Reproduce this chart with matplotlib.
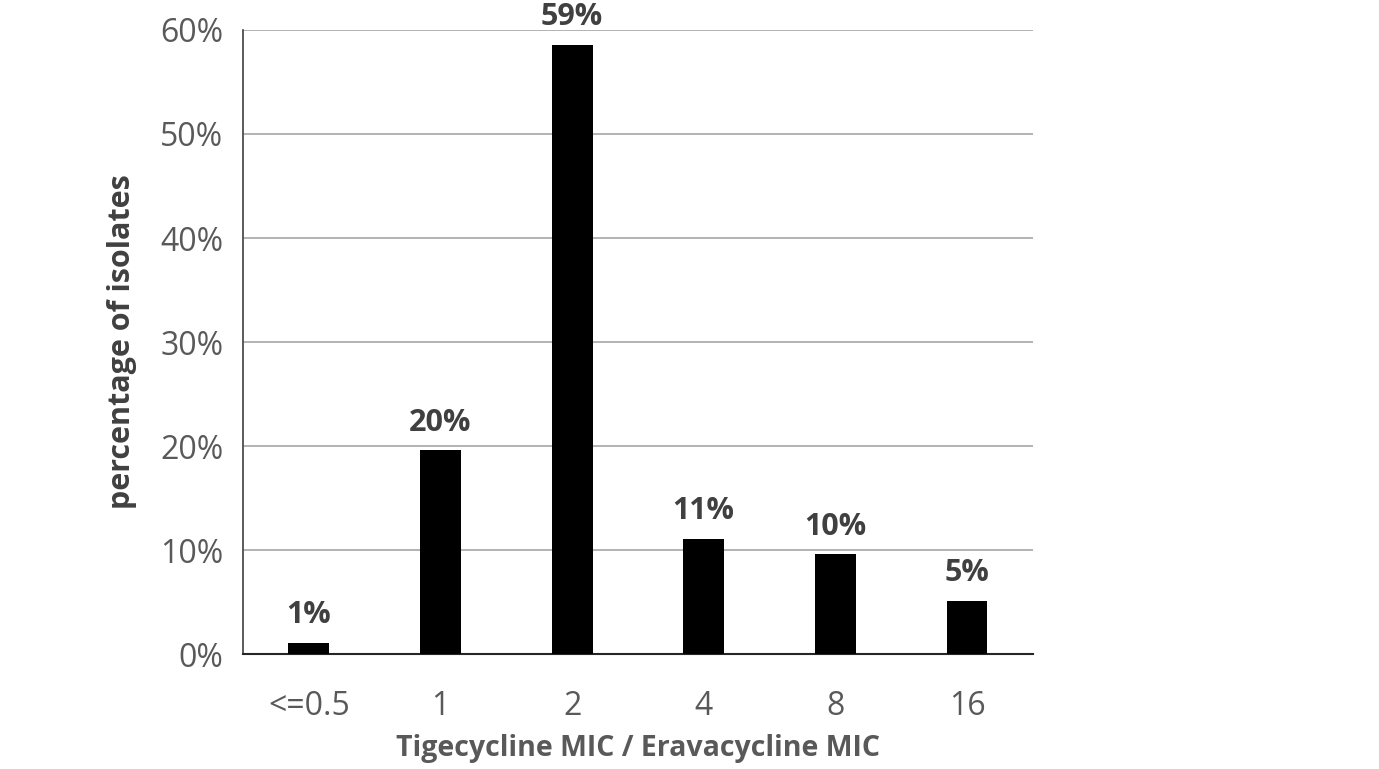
import matplotlib
matplotlib.use("Agg")
import matplotlib.pyplot as plt
from matplotlib.ticker import PercentFormatter

# ── Data ────────────────────────────────────────────────────────────────
categories = ["<=0.5", "1", "2", "4", "8", "16"]
percent_isolates = [1.1, 19.6, 58.6, 11.1, 9.6, 5.1]

plt.rcParams["font.family"] = ["Open Sans", "DejaVu Sans"]

fig = plt.figure(figsize=(13.79, 7.69), dpi=100)
ax = fig.add_axes([0.1762, 0.1495, 0.749 - 0.1762, 0.961 - 0.1495])

x = range(len(categories))
bars = ax.bar(x, percent_isolates, width=0.31, color="black", zorder=3)

for xi, v in zip(x, percent_isolates):
    ax.annotate(f"{v:.0f}%", (xi, v), xytext=(0, 9), textcoords="offset points",
                ha="center", va="bottom", fontsize=22, fontweight="bold",
                color="#404040", clip_on=False, zorder=4)

ax.set_xlim(-0.5, len(categories) - 0.5)
ax.set_ylim(0, 60)
ax.set_yticks(range(0, 61, 10))
ax.yaxis.set_major_formatter(PercentFormatter(decimals=0))
ax.set_xticks(list(x))
ax.set_xticklabels(categories)

ax.grid(axis="y", color="#a6a6a6", linewidth=1.2, zorder=0)
ax.tick_params(axis="both", length=0, labelsize=23, labelcolor="#595959")
ax.tick_params(axis="x", pad=26)
ax.tick_params(axis="y", pad=14)

for side in ["top", "right"]:
    ax.spines[side].set_visible(False)
ax.spines["left"].set_color("#404040")
ax.spines["bottom"].set_color("#262626")
ax.spines["left"].set_linewidth(1.2)
ax.spines["bottom"].set_linewidth(1.5)

ax.set_xlabel("Tigecycline MIC / Eravacycline MIC", fontsize=20.5,
              fontweight="bold", color="#595959", labelpad=8)
ax.set_ylabel("percentage of isolates", fontsize=22, fontweight="bold",
              color="#404040", labelpad=17)

fig.savefig("out.png", dpi=100)
